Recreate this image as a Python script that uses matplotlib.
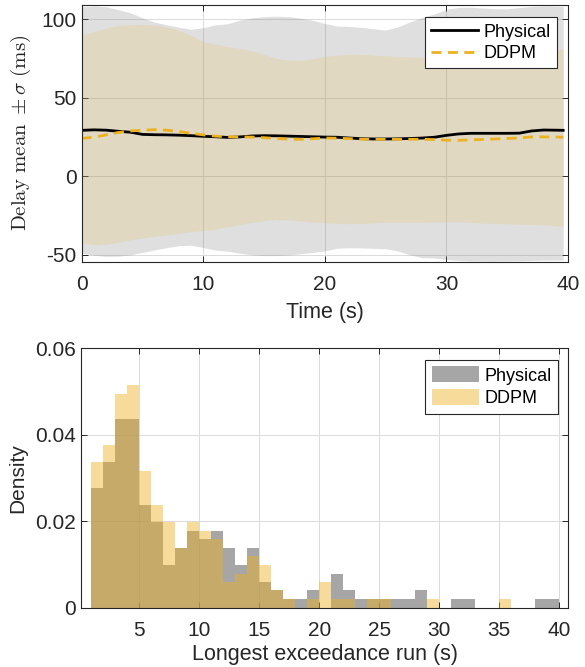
import matplotlib
matplotlib.use('Agg')
import matplotlib.pyplot as plt
from matplotlib.ticker import FixedLocator, FixedFormatter

# ---------------- data: top panel (delay mean +/- sigma) ----------------
time_s = [0, 1, 2, 3, 4, 5, 6, 7, 8, 9, 10, 11, 12, 13, 14, 15, 16, 17, 18, 19,
          20, 21, 22, 23, 24, 25, 26, 27, 28, 29, 30, 31, 32, 33, 34, 35, 36, 37,
          38, 39, 39.6]
phys_mean = [29.2, 29.5, 29.3, 28.6, 28.0, 26.6, 26.4, 26.3, 26.1, 25.8, 25.4, 25.1,
             24.7, 25.0, 25.6, 25.8, 25.7, 25.5, 25.3, 25.1, 24.9, 24.8, 24.3, 23.9,
             23.7, 23.7, 23.8, 24.0, 24.3, 24.8, 26.0, 26.9, 27.3, 27.3, 27.3, 27.3,
             27.4, 28.8, 29.4, 29.3, 29.2]
phys_hi = [107.8, 108.3, 107.8, 106.0, 104.0, 100.8, 98.0, 96.3, 94.8, 93.5, 94.5,
           96.3, 97.0, 99.3, 100.8, 101.5, 101.8, 101.5, 100.6, 99.2, 97.2, 95.5,
           95.3, 94.7, 93.8, 93.0, 95.0, 98.2, 101.0, 103.2, 106.2, 107.4, 107.5,
           107.0, 106.5, 106.5, 107.3, 108.0, 108.3, 108.2, 108.0]
phys_lo = [-49.0, -50.3, -51.0, -50.9, -50.0, -48.5, -46.9, -45.4, -44.2, -43.9,
           -45.4, -47.0, -47.7, -49.0, -50.0, -50.5, -50.5, -50.1, -49.3, -48.5,
           -47.5, -45.8, -45.5, -45.6, -45.9, -46.2, -47.5, -50.0, -51.8, -52.0,
           -53.0, -53.6, -53.9, -54.0, -54.0, -53.9, -53.8, -53.6, -53.4, -53.3, -53.2]
ddpm_mean = [24.1, 24.8, 26.3, 27.8, 28.8, 29.3, 29.6, 29.3, 28.4, 27.3, 26.3, 25.5,
             25.1, 25.0, 24.9, 24.5, 24.0, 23.6, 23.5, 23.8, 24.3, 24.2, 23.9, 23.6,
             23.5, 23.5, 23.5, 23.5, 23.5, 23.3, 22.9, 22.9, 23.1, 23.4, 23.7, 24.0,
             24.4, 25.0, 25.0, 24.9, 24.8]
ddpm_hi = [89.8, 92.0, 94.3, 95.8, 96.4, 96.5, 96.1, 95.0, 92.8, 89.5, 85.6, 84.0,
           82.4, 81.3, 79.8, 77.5, 75.0, 73.8, 73.5, 74.8, 76.3, 77.0, 77.6, 77.5,
           77.0, 76.6, 76.2, 75.8, 75.7, 76.0, 76.4, 76.7, 77.0, 77.3, 77.6, 78.2,
           78.8, 79.3, 79.8, 80.6, 81.0]
ddpm_lo = [-42.6, -43.6, -43.3, -42.0, -40.5, -39.3, -38.3, -37.4, -36.4, -35.3,
           -34.5, -33.8, -32.3, -30.7, -29.4, -28.3, -27.6, -27.8, -28.5, -29.2,
           -29.5, -29.9, -30.2, -30.1, -29.7, -29.3, -29.3, -29.3, -29.3, -29.1,
           -29.0, -29.0, -29.4, -29.8, -30.0, -30.3, -30.5, -30.7, -30.9, -31.5, -32.0]

# ---------------- data: bottom panel (histogram densities) ----------------
bin_left = list(range(1, 40))  # bins of width 1 s, from 1 to 40
phys_density = [0.0277, 0.0337, 0.0436, 0.0436, 0.0238, 0.0198, 0.0099, 0.0139, 0.0178, 0.0158,
                0.0178, 0.0139, 0.0099, 0.0139, 0.0059, 0.0040, 0.0020, 0.0020, 0.0040, 0.0,
                0.0079, 0.0040, 0.0020, 0.0020, 0.0020, 0.0020, 0.0020, 0.0040, 0.0, 0.0,
                0.0020, 0.0020, 0.0, 0.0, 0.0, 0.0, 0.0, 0.0020, 0.0020]
ddpm_density = [0.0337, 0.0376, 0.0495, 0.0515, 0.0317, 0.0238, 0.0198, 0.0139, 0.0198, 0.0178,
                0.0158, 0.0059, 0.0079, 0.0119, 0.0099, 0.0040, 0.0020, 0.0, 0.0020, 0.0059,
                0.0020, 0.0020, 0.0, 0.0020, 0.0020, 0.0, 0.0, 0.0, 0.0020, 0.0,
                0.0, 0.0, 0.0, 0.0, 0.0020, 0.0, 0.0, 0.0, 0.0]

top_xticks = [0, 10, 20, 30, 40]
top_yticks = [-50, 0, 50, 100]
bot_xticks = [5, 10, 15, 20, 25, 30, 35, 40]
bot_yticks = [0, 0.02, 0.04, 0.06]
bot_yticklabels = ['0', '0.02', '0.04', '0.06']

# ---------------- style ----------------
plt.rcParams['font.family'] = ['Liberation Sans', 'DejaVu Sans']
plt.rcParams['mathtext.fontset'] = 'cm'
plt.rcParams['axes.unicode_minus'] = False

GRAY = (0.5, 0.5, 0.5)
YEL = '#EDB120'
DARK = '#262626'
FS = 15

fig = plt.figure(figsize=(5.85, 6.67), dpi=100)
ax1 = fig.add_axes([0.1397, 0.6076, 0.8313, 0.3853])
ax2 = fig.add_axes([0.1385, 0.0889, 0.8330, 0.3889])


def style_axes(ax):
    for s in ax.spines.values():
        s.set_color(DARK)
        s.set_linewidth(0.8)
    ax.tick_params(direction='in', top=True, right=True, length=4, width=0.7,
                   colors=DARK, labelsize=FS, labelcolor=DARK)
    ax.tick_params(axis='x', pad=9.5)
    ax.tick_params(axis='y', pad=3.5)
    ax.grid(True, color='#dadada', linewidth=0.7)
    ax.set_axisbelow(True)


# ---- top ----
style_axes(ax1)
ax1.fill_between(time_s, phys_lo, phys_hi, color=GRAY, alpha=0.25, linewidth=0)
ax1.fill_between(time_s, ddpm_lo, ddpm_hi, color=YEL, alpha=0.15, linewidth=0)
ax1.plot(time_s, phys_mean, color='black', linewidth=2.0, label='Physical')
ax1.plot(time_s, ddpm_mean, color=YEL, linewidth=2.0, linestyle=(0, (3.6, 2.3)),
         label='DDPM')
ax1.set_xlim(0, 40)
ax1.set_ylim(-54.4, 109.1)
ax1.xaxis.set_major_locator(FixedLocator(top_xticks))
ax1.yaxis.set_major_locator(FixedLocator(top_yticks))
ax1.set_xlabel('Time (s)', fontsize=15.5, color=DARK, labelpad=6)
ax1.set_ylabel(r'$\mathrm{Delay\ mean}\ \pm\sigma\ \mathrm{(ms)}$', fontsize=FS,
               color=DARK, labelpad=6)
leg1 = ax1.legend(loc='upper right', bbox_to_anchor=(0.978, 0.951), borderaxespad=0,
                  fontsize=13, fancybox=False, framealpha=1, edgecolor=DARK,
                  handlelength=2.6, handletextpad=0.3, borderpad=0.35,
                  labelspacing=0.25)
leg1.get_frame().set_linewidth(0.8)

# ---- bottom ----
style_axes(ax2)
ax2.bar(bin_left, phys_density, width=1.0, align='edge', color=GRAY, alpha=0.7,
        linewidth=0, label='Physical')
ax2.bar(bin_left, ddpm_density, width=1.0, align='edge', color=YEL, alpha=0.45,
        linewidth=0, label='DDPM')
ax2.set_xlim(0.14, 40.75)
ax2.set_ylim(0, 0.06)
ax2.xaxis.set_major_locator(FixedLocator(bot_xticks))
ax2.yaxis.set_major_locator(FixedLocator(bot_yticks))
ax2.yaxis.set_major_formatter(FixedFormatter(bot_yticklabels))
ax2.set_xlabel('Longest exceedance run (s)', fontsize=15.5, color=DARK, labelpad=3)
ax2.set_ylabel('Density', fontsize=FS, color=DARK, labelpad=6)
leg2 = ax2.legend(loc='upper right', bbox_to_anchor=(0.978, 0.955), borderaxespad=0,
                  fontsize=13, fancybox=False, framealpha=1, edgecolor=DARK,
                  handlelength=2.6, handleheight=1.0, handletextpad=0.3,
                  borderpad=0.35, labelspacing=0.25)
leg2.get_frame().set_linewidth(0.8)

fig.savefig('out.png', dpi=100)
